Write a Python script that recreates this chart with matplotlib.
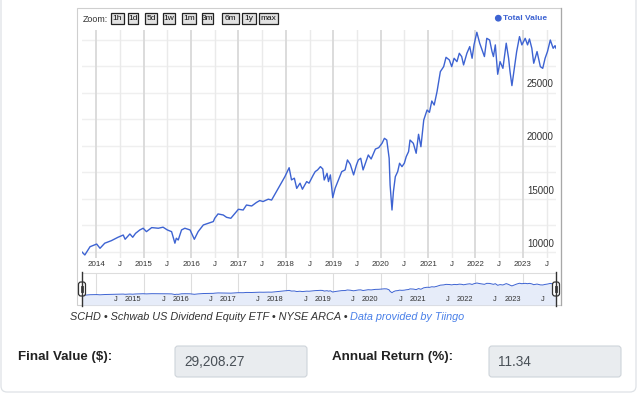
import matplotlib
matplotlib.use('Agg')
import matplotlib.pyplot as plt
from matplotlib.patches import Rectangle, FancyBboxPatch, Circle

plt.rcParams['font.family'] = ['Liberation Sans', 'DejaVu Sans']

# growth of 10,000 USD in SCHD (decimal year, value)
dates = [2013.70, 2013.76, 2013.87, 2014.01, 2014.08, 2014.18, 2014.32, 2014.46,
         2014.57, 2014.61, 2014.71, 2014.77, 2014.83, 2014.92, 2014.99, 2015.06,
         2015.17, 2015.31, 2015.41, 2015.50, 2015.59, 2015.66, 2015.69, 2015.73,
         2015.80, 2015.87, 2015.98, 2016.07, 2016.15, 2016.26, 2016.40, 2016.47,
         2016.50, 2016.57, 2016.68, 2016.75, 2016.84, 2016.93, 2017.00, 2017.10,
         2017.17, 2017.28, 2017.38, 2017.45, 2017.52, 2017.63, 2017.70, 2017.84,
         2017.98, 2018.07, 2018.12, 2018.18, 2018.23, 2018.30, 2018.35, 2018.44,
         2018.49, 2018.58, 2018.62, 2018.67, 2018.73, 2018.78, 2018.81, 2018.87,
         2018.90, 2018.94, 2018.99, 2019.04, 2019.11, 2019.18, 2019.25, 2019.30,
         2019.36, 2019.43, 2019.49, 2019.53, 2019.58, 2019.63, 2019.68, 2019.74,
         2019.80, 2019.89, 2019.96, 2020.03, 2020.08, 2020.13, 2020.18, 2020.20,
         2020.24, 2020.27, 2020.31, 2020.36, 2020.40, 2020.45, 2020.50, 2020.54,
         2020.59, 2020.62, 2020.69, 2020.75, 2020.80, 2020.85, 2020.91, 2020.98,
         2021.03, 2021.08, 2021.13, 2021.19, 2021.26, 2021.33, 2021.38, 2021.45,
         2021.50, 2021.55, 2021.61, 2021.66, 2021.71, 2021.75, 2021.82, 2021.88,
         2021.93, 2021.97, 2022.03, 2022.09, 2022.14, 2022.19, 2022.24, 2022.30,
         2022.35, 2022.38, 2022.42, 2022.47, 2022.52, 2022.58, 2022.65, 2022.70,
         2022.73, 2022.77, 2022.82, 2022.87, 2022.93, 2022.98, 2023.05, 2023.10,
         2023.14, 2023.19, 2023.23, 2023.30, 2023.37, 2023.42, 2023.47, 2023.52,
         2023.58, 2023.64, 2023.68, 2023.70]
values = [10000, 9720, 10500, 10750, 10350, 10830, 11070, 11390,
          11600, 11200, 11700, 11390, 11760, 12080, 12240, 11920,
          12300, 12240, 12340, 12080, 11920, 10830, 11300, 11130,
          12080, 12240, 12080, 11200, 11920, 12550, 12770, 12870,
          13180, 13590, 13490, 13270, 13180, 13650, 14030, 13960,
          14430, 14340, 14670, 14850, 14760, 14980, 14900, 16000,
          17100, 17950, 16800, 16960, 16000, 16490, 15920, 16640,
          16490, 17270, 17580, 17740, 18050, 17830, 16790, 17420,
          16640, 17270, 15130, 16010, 16790, 17580, 17740, 18680,
          18270, 17270, 18210, 18680, 18840, 17740, 18370, 19150,
          18770, 19710, 19840, 20250, 20720, 20560, 18840, 16320,
          13960, 15690, 17100, 17580, 18370, 18050, 18370, 18990,
          19470, 20560, 20250, 19310, 21100, 19930, 22450, 23390,
          23170, 24240, 23860, 25120, 27010, 27480, 28360, 28110,
          27480, 28270, 27950, 28740, 28430, 27640, 28740, 29370,
          28270, 29530, 30720, 29690, 29060, 28430, 30150, 29990,
          28900, 28430, 29530, 26760, 27950, 27320, 29690, 28270,
          27010, 25690, 27320, 28900, 30310, 29530, 30150, 29530,
          30090, 29210, 27800, 28900, 27480, 27320, 28270, 28900,
          29990, 29210, 29460, 29208]

year_ticks = [2014, 2015, 2016, 2017, 2018, 2019, 2020, 2021, 2022, 2023]
half_ticks = [2014.5, 2015.5, 2016.5, 2017.5, 2018.5, 2019.5, 2020.5, 2021.5, 2022.5, 2023.5]
grid_values = [10000, 12500, 15000, 17500, 20000, 22500, 25000, 27500, 30000]
label_values = [10000, 15000, 20000, 25000]
zoom_buttons = ['1h', '1d', '5d', '1w', '1m', '3m', '6m', '1y', 'max']

LINE = '#3d63d2'
W, H = 640, 394

fig = plt.figure(figsize=(6.4, 3.94), dpi=100)
fig.patch.set_facecolor('white')

# background layer in pixel coordinates
bg = fig.add_axes([0, 0, 1, 1], zorder=0)
bg.set_xlim(0, W)
bg.set_ylim(H, 0)
bg.axis('off')

bg.add_patch(FancyBboxPatch((1, -20), 635, 412, boxstyle='round,pad=0,rounding_size=6',
                            facecolor='white', edgecolor='#dee2e6', lw=0.9))
bg.add_patch(Rectangle((77, 8), 484, 297, facecolor='white', edgecolor='#cfcfcf', lw=0.8))
bg.plot([561, 561], [8, 305], color='#a8a8a8', lw=0.9)

# zoom buttons
bg.text(83, 19, 'Zoom:', fontsize=6.4, color='#333333', va='center')
btn_x = [(111, 124), (128, 138), (145, 157), (163, 175), (182, 196),
         (202, 213), (222, 239), (242, 256), (259, 278)]
for lab, (x0, x1) in zip(zoom_buttons, btn_x):
    bg.add_patch(Rectangle((x0, 13), x1 - x0, 11, facecolor='#e2e2e2',
                           edgecolor='#222222', lw=0.9))
    bg.text((x0 + x1) / 2, 18.8, lab, fontsize=6, color='#111111',
            ha='center', va='center')

# legend
bg.add_patch(Circle((498.3, 18.2), 2.7, color=LINE))
bg.text(503, 18.5, 'Total Value', fontsize=6, fontweight='bold', color=LINE, va='center')

# footer texts
src = bg.text(70, 317.5, 'SCHD • Schwab US Dividend Equity ETF • NYSE ARCA • ',
              fontsize=7.8, style='italic', color='#333333', va='center')
bg.annotate('Data provided by Tiingo', xy=(1, 0.5), xycoords=src, va='center',
            fontsize=7.8, style='italic', color='#4a80e8')

bg.text(18, 357, 'Final Value ($):', fontsize=9.6, fontweight='bold', color='#222222', va='center')
bg.text(332, 357, 'Annual Return (%):', fontsize=9.6, fontweight='bold', color='#222222', va='center')
for x0, x1, val in [(175, 307, '29,208.27'), (489, 621, '11.34')]:
    bg.add_patch(FancyBboxPatch((x0, 346), x1 - x0, 31, boxstyle='round,pad=0,rounding_size=3',
                                facecolor='#e9ecef', edgecolor='#ced4da', lw=0.8))
    bg.text(x0 + 9, 361.5, val, fontsize=9.8, color='#495057', va='center')

# main chart
ax = fig.add_axes([82 / W, 1 - 258 / H, 474 / W, 228 / H], zorder=2)
ax.set_xlim(2013.70, 2023.70)
ax.set_ylim(9434, 30935)
for g in grid_values:
    ax.axhline(g, color='#efefef', lw=1, zorder=0)
for t in half_ticks:
    ax.axvline(t, color='#eaeaea', lw=1, zorder=0)
for t in year_ticks:
    ax.axvline(t, color='#d9d9d9', lw=1.3, zorder=0)
ax.plot(dates, values, color=LINE, lw=1.0, zorder=3)
for s in ax.spines.values():
    s.set_visible(False)
ticks = sorted(year_ticks + half_ticks)
ax.set_xticks(ticks)
ax.set_xticklabels([str(t) if t in year_ticks else 'J' for t in ticks])
ax.tick_params(axis='x', length=0, pad=2.5, labelsize=5.8, labelcolor='#333333')
ax.set_yticks([])
for v in label_values:
    ax.annotate(str(v), xy=(1, v), xycoords=('axes fraction', 'data'),
                xytext=(-1.5, 2.5), textcoords='offset points',
                ha='right', va='bottom', fontsize=7, color='#333333')

# navigator
nav = fig.add_axes([82 / W, 1 - 305 / H, 474 / W, 32 / H], zorder=2)
nav.set_xlim(2013.70, 2023.70)
nav.set_ylim(-7270, 48000)
for t in year_ticks:
    nav.axvline(t, color='#dddddd', lw=0.8, zorder=0)
nav.fill_between(dates, values, -7270, color='#e6ecf9', lw=0, zorder=1)
nav.plot(dates, values, color=LINE, lw=0.7, zorder=2)
for s in ['left', 'right', 'bottom']:
    nav.spines[s].set_visible(False)
nav.spines['top'].set_color('#dddddd')
nav.spines['top'].set_linewidth(0.8)
nav.set_xticks([])
nav.set_yticks([])
for t in half_ticks + year_ticks[1:]:
    lab = 'J' if t in half_ticks else str(t)
    nav.annotate(lab, xy=(t, 0.17), xycoords=('data', 'axes fraction'),
                 xytext=(-1.5, 0), textcoords='offset points',
                 ha='right', va='center', fontsize=5.4, color='#333333')

# navigator handles
top = fig.add_axes([0, 0, 1, 1], zorder=4)
top.set_xlim(0, W)
top.set_ylim(H, 0)
top.axis('off')
for hx in (82, 556):
    top.plot([hx, hx], [272, 306], color='#333333', lw=1)
    top.add_patch(FancyBboxPatch((hx - 3.5, 282), 7, 14, boxstyle='round,pad=0,rounding_size=2.5',
                                 facecolor='white', edgecolor='#333333', lw=0.9))
    top.plot([hx - 1, hx - 1], [286, 292], color='#333333', lw=0.6)
    top.plot([hx + 1, hx + 1], [286, 292], color='#333333', lw=0.6)

fig.savefig('out.png', dpi=100)
